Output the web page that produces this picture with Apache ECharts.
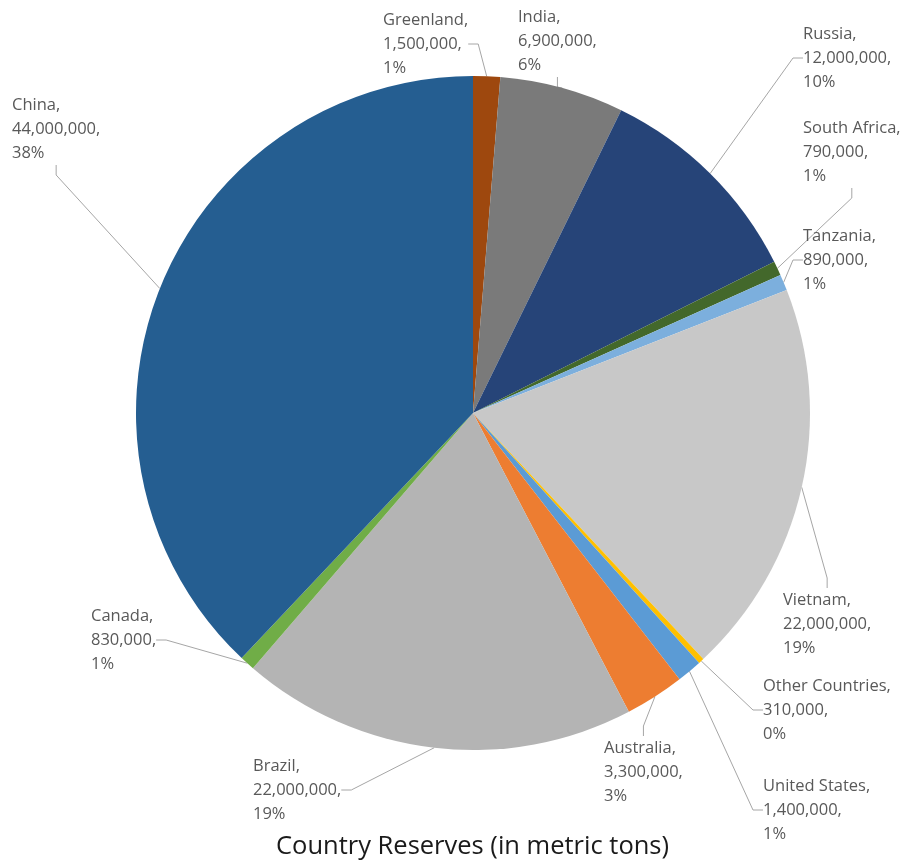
<!DOCTYPE html>
<html>
<head>
<meta charset="utf-8">
<title>Country Reserves</title>
<script src="https://cdn.jsdelivr.net/npm/echarts@6/dist/echarts.min.js"></script>
<style>
  html, body { margin: 0; padding: 0; background: #ffffff; }
  #chart { width: 909px; height: 861px; }
</style>
</head>
<body>
<div id="chart"></div>
<script>
// Slices in clockwise order starting from 12 o'clock
const countries = ['Greenland', 'India', 'Russia', 'South Africa', 'Tanzania', 'Vietnam',
  'Other Countries', 'United States', 'Australia', 'Brazil', 'Canada', 'China'];
const reserves = [1500000, 6900000, 12000000, 790000, 890000, 22000000,
  310000, 1400000, 3300000, 22000000, 830000, 44000000];
const sliceColors = ['#9E480E', '#7A7A7A', '#264478', '#43682B', '#7CAFDD', '#C8C8C8',
  '#FFC000', '#5B9BD5', '#ED7D31', '#B4B4B4', '#70AD47', '#255E91'];
// Top-left corner of each label block, in pixels
const labelSpots = [[383, 8], [518, 5], [803, 22], [803, 116], [803, 224], [783, 588],
  [763, 674], [763, 774], [604, 736], [253, 754], [91, 604], [12, 93]];
const chartTitle = 'Country Reserves (in metric tons)';

const total = reserves.reduce((a, b) => a + b, 0);

const chart = echarts.init(document.getElementById('chart'), null, { renderer: 'canvas' });

chart.setOption({
  backgroundColor: '#ffffff',
  animation: false,
  title: {
    text: chartTitle,
    left: 271,
    top: 829,
    textStyle: {
      fontFamily: 'Open Sans',
      fontSize: 25.5,
      fontWeight: 'normal',
      color: '#1a1a1a'
    }
  },
  series: [{
    type: 'pie',
    center: [473, 413],
    radius: [0, 337],
    startAngle: 90,
    clockwise: true,
    avoidLabelOverlap: false,
    data: countries.map((name, i) => ({
      name: name,
      value: reserves[i],
      itemStyle: { color: sliceColors[i] }
    })),
    itemStyle: { borderWidth: 0 },
    label: {
      show: true,
      position: 'outside',
      fontFamily: 'Open Sans',
      fontSize: 16.5,
      lineHeight: 24,
      color: '#595959',
      formatter: function (p) {
        const pct = Math.round(p.value / total * 100);
        return p.name + ',\n' + p.value.toLocaleString('en-US') + ',\n' + pct + '%';
      }
    },
    labelLine: {
      show: true,
      length: 10,
      length2: 10,
      lineStyle: { color: '#A6A6A6', width: 1 }
    },
    labelLayout: function (params) {
      const s = labelSpots[params.dataIndex];
      return { x: s[0], y: s[1], align: 'left', verticalAlign: 'top' };
    },
    emphasis: { disabled: true }
  }]
});
</script>
</body>
</html>
